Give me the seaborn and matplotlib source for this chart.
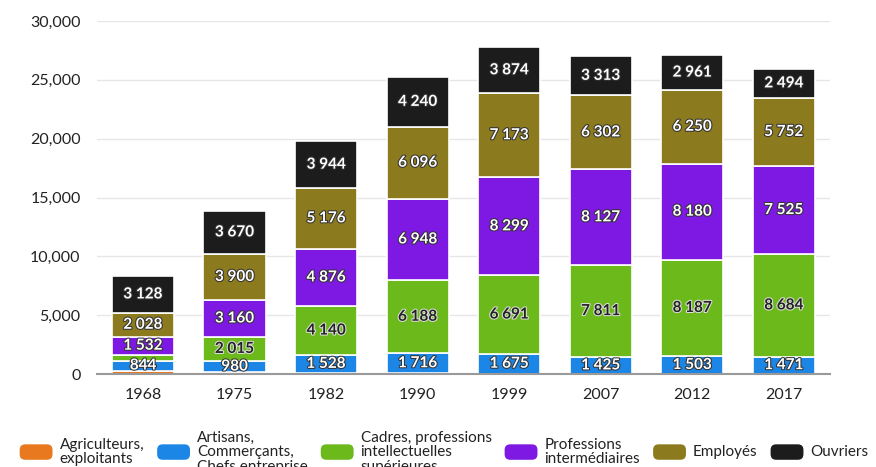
import numpy as np
import pandas as pd
import matplotlib
matplotlib.use('Agg')
import matplotlib.pyplot as plt
import matplotlib.patheffects as pe
from matplotlib.patches import Patch, FancyBboxPatch
from matplotlib.legend_handler import HandlerPatch
from matplotlib.ticker import FuncFormatter
import seaborn as sns

years = ['1968', '1975', '1982', '1990', '1999', '2007', '2012', '2017']
categories = [
    'Agriculteurs,\nexploitants',
    'Artisans,\nCommerçants,\nChefs entreprise',
    'Cadres, professions\nintellectuelles\nsupérieures',
    'Professions\nintermédiaires',
    'Employés',
    'Ouvriers',
]
agriculteurs = [300, 150, 100, 60, 40, 20, 20, 20]
artisans = [844, 980, 1528, 1716, 1675, 1425, 1503, 1471]
cadres = [500, 2015, 4140, 6188, 6691, 7811, 8187, 8684]
prof_inter = [1532, 3160, 4876, 6948, 8299, 8127, 8180, 7525]
employes = [2028, 3900, 5176, 6096, 7173, 6302, 6250, 5752]
ouvriers = [3128, 3670, 3944, 4240, 3874, 3313, 2961, 2494]
colors = ['#e8791f', '#1c86e6', '#6cb91b', '#7e19e4', '#8b7a1e', '#1c1c1c']
label_dark = [False, False, True, False, False, False]

series = [agriculteurs, artisans, cadres, prof_inter, employes, ouvriers]
df = pd.DataFrame({'year': years})
for cat, vals in zip(categories, series):
    df[cat] = vals


class RoundHandler(HandlerPatch):
    # rounded legend swatches
    def create_artists(self, legend, orig_handle, xdescent, ydescent,
                       width, height, fontsize, trans):
        p = FancyBboxPatch((-xdescent, -ydescent), width, height,
                           boxstyle='round,pad=0,rounding_size=4',
                           facecolor=orig_handle.get_facecolor(),
                           edgecolor='none', transform=trans)
        return [p]


plt.rcParams['font.family'] = ['Lato', 'DejaVu Sans']
fig = plt.figure(figsize=(8.76, 4.67), dpi=100)
ax = fig.add_axes([0.111, 0.199, 0.836, 0.756])

bottom = np.zeros(len(years))
for i, cat in enumerate(categories):
    sns.barplot(data=df, x='year', y=cat, order=years, color=colors[i],
                bottom=bottom, width=0.68, edgecolor='white', linewidth=1.2,
                saturation=1, ax=ax)
    cont = ax.containers[-1]
    vals = df[cat].to_numpy()
    labels = [f'{v:,}'.replace(',', ' ') if v >= 800 else '' for v in vals]
    if label_dark[i]:
        tc, oc = '#222222', '#dddddd'
    else:
        tc, oc = 'white', '#333333'
    ax.bar_label(cont, labels=labels, label_type='center', color=tc,
                 fontsize=11, fontweight='bold',
                 path_effects=[pe.withStroke(linewidth=1.5, foreground=oc)])
    bottom = bottom + vals

ax.set_ylim(0, 30000)
ax.set_xlim(-0.5, len(years) - 0.5)
ax.set_yticks(np.arange(0, 30001, 5000))
ax.yaxis.set_major_formatter(FuncFormatter(lambda v, p: f'{v:,.0f}'))
ax.grid(axis='y', color='#e6e6e6', linewidth=1)
ax.set_axisbelow(True)
for s in ['top', 'right', 'left']:
    ax.spines[s].set_visible(False)
ax.spines['bottom'].set_color('#999999')
ax.spines['bottom'].set_linewidth(1.5)
ax.tick_params(axis='both', length=0, labelsize=11.5, colors='#222222')
ax.tick_params(axis='y', pad=12)
ax.tick_params(axis='x', pad=10)
ax.set_xlabel('')
ax.set_ylabel('')

handles = [Patch(facecolor=c, edgecolor='none') for c in colors]
leg = fig.legend(handles, categories, loc='center', bbox_to_anchor=(0.507, 0.032),
                 ncol=6, frameon=False, fontsize=11, handlelength=2.15,
                 handleheight=1.18, handletextpad=0.46, columnspacing=0.85,
                 labelspacing=0.2, handler_map={Patch: RoundHandler()})
for t in leg.get_texts():
    t.set_color('#222222')
    t.set_linespacing(1.05)
# centre swatches on multi-line labels
leg._legend_handle_box.align = 'center'
for col in leg._legend_handle_box.get_children():
    col.align = 'center'
    for item in col.get_children():
        item.align = 'center'

fig.savefig('out.png', dpi=100)
